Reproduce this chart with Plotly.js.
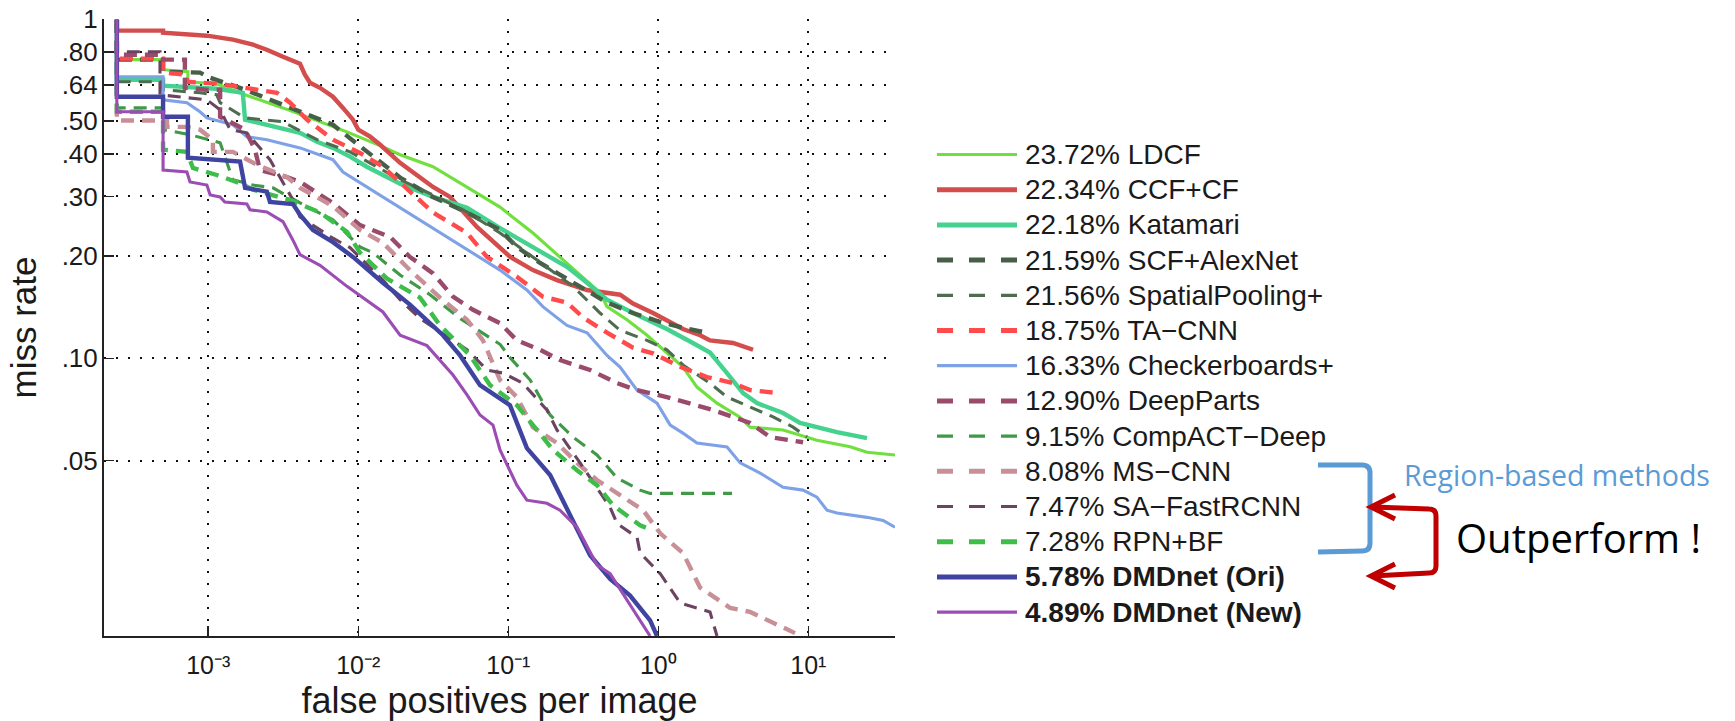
<!DOCTYPE html>
<html><head><meta charset="utf-8">
<script src="https://cdn.plot.ly/plotly-3.0.1.min.js"></script>
<style>html,body{margin:0;padding:0;background:#fff;}#chart{width:1735px;height:721px;}</style>
</head><body><div id="chart"></div>
<script>
// ---- data (false positives per image vs miss rate) ----
const legendLabels = ['23.72% LDCF','22.34% CCF+CF','22.18% Katamari','21.59% SCF+AlexNet','21.56% SpatialPooling+','18.75% TA\u2212CNN','16.33% Checkerboards+','12.90% DeepParts','9.15% CompACT\u2212Deep','8.08% MS\u2212CNN','7.47% SA\u2212FastRCNN','7.28% RPN+BF','<b>5.78% DMDnet (Ori)</b>','<b>4.89% DMDnet (New)</b>'];

const ldcfFppi = [2.46e-4,2.46e-4,5.0e-4,5.0e-4,7.32e-4,7.32e-4,1.14e-3,1.76e-3,3.15e-3,4.77e-3,6.78e-3,8.41e-3,1.46e-2,1.90e-2,3.15e-2,5.31e-2,8.81e-2,0.146,0.246,0.409,0.455,0.618,0.841,1.14,1.46,1.81,2.46,3.50,4.09,6.78,11.4,19.0,24.6,37.8];
const ldcfMiss = [0.995,0.759,0.759,0.709,0.699,0.653,0.644,0.598,0.547,0.511,0.481,0.465,0.420,0.398,0.367,0.320,0.279,0.234,0.191,0.156,0.142,0.130,0.117,0.104,0.0943,0.0823,0.0738,0.0671,0.0627,0.0615,0.0574,0.0549,0.0529,0.0519];

const ccfFppi = [2.46e-4,2.46e-4,5.0e-4,5.0e-4,9.8e-4,1.46e-3,1.99e-3,2.46e-3,3.15e-3,4.09e-3,4.41e-3,4.77e-3,5.56e-3,6.78e-3,7.91e-3,9.22e-3,1.0e-2,1.2e-2,1.4e-2,1.9e-2,3.15e-2,4.09e-2,6.18e-2,0.103,0.146,0.211,0.335,0.556,0.678,0.922,1.46,1.90,2.21,3.15,4.28];
const ccfMiss = [0.995,0.924,0.924,0.911,0.893,0.869,0.840,0.812,0.774,0.738,0.685,0.649,0.627,0.590,0.547,0.505,0.472,0.450,0.426,0.377,0.320,0.299,0.244,0.199,0.182,0.170,0.159,0.154,0.145,0.136,0.122,0.117,0.113,0.111,0.106];

const katamariFppi = [2.46e-4,2.46e-4,5.0e-4,5.0e-4,1.14e-3,1.70e-3,1.76e-3,2.46e-3,3.15e-3,4.09e-3,5.31e-3,6.78e-3,8.81e-3,1.14e-2,1.46e-2,1.90e-2,3.15e-2,5.31e-2,8.81e-2,0.146,0.246,0.335,0.455,0.678,1.14,1.70,2.21,2.87,3.67,4.55,6.78,8.81,15.5,24.6];
const katamariMiss = [0.995,0.662,0.662,0.636,0.623,0.606,0.505,0.488,0.478,0.462,0.435,0.417,0.393,0.367,0.347,0.327,0.299,0.278,0.242,0.213,0.186,0.167,0.149,0.136,0.122,0.111,0.104,0.0905,0.0790,0.0738,0.0690,0.0645,0.0606,0.0582];

const scfFppi = [2.46e-4,2.46e-4,5.0e-4,5.0e-4,8.81e-4,1.03e-3,1.76e-3,3.15e-3,4.77e-3,6.78e-3,1.0e-2,1.46e-2,1.90e-2,3.15e-2,5.31e-2,8.81e-2,0.114,0.163,0.270,0.455,0.678,1.03,1.46,2.11];
const scfMiss = [0.995,0.759,0.759,0.699,0.695,0.671,0.619,0.559,0.522,0.488,0.426,0.372,0.341,0.299,0.269,0.239,0.213,0.191,0.167,0.146,0.136,0.128,0.123,0.119];

const spFppi = [2.46e-4,2.46e-4,5.0e-4,5.0e-4,8.81e-4,1.14e-3,1.20e-3,1.76e-3,3.15e-3,5.31e-3,8.81e-3,1.46e-2,1.90e-2,3.15e-2,5.31e-2,8.81e-2,0.163,0.270,0.409,0.556,0.841,1.14,1.46,2.21,2.87,4.09,5.82,7.91,9.80];
const spMiss = [0.995,0.653,0.653,0.619,0.606,0.598,0.567,0.511,0.498,0.441,0.406,0.359,0.336,0.303,0.270,0.234,0.192,0.163,0.136,0.121,0.113,0.106,0.0956,0.0845,0.0769,0.0718,0.0672,0.0627,0.0586];

const tacnnFppi = [2.46e-4,2.46e-4,5.0e-4,5.0e-4,7.21e-4,7.21e-4,1.20e-3,1.76e-3,2.87e-3,3.51e-3,4.55e-3,6.78e-3,1.026e-2,1.46e-2,1.90e-2,3.15e-2,5.31e-2,7.21e-2,0.114,0.170,0.246,0.315,0.455,0.678,0.922,1.46,2.11,3.15,4.09,6.18];
const tacnnMiss = [0.995,0.764,0.764,0.695,0.685,0.653,0.644,0.627,0.606,0.567,0.505,0.441,0.403,0.367,0.331,0.269,0.234,0.199,0.174,0.152,0.146,0.132,0.119,0.1075,0.1034,0.0937,0.0881,0.0845,0.0806,0.0791];

const checkFppi = [2.46e-4,2.46e-4,5.0e-4,5.0e-4,7.21e-4,8.81e-4,9.8e-4,1.46e-3,1.81e-3,2.46e-3,4.09e-3,6.78e-3,7.91e-3,1.14e-2,1.90e-2,3.15e-2,5.31e-2,8.81e-2,0.133,0.170,0.246,0.335,0.455,0.556,0.721,0.980,1.20,1.46,1.81,2.87,3.51,4.77,6.78,9.22,11.4,13.3,15.5,24.6,31.5,37.8];
const checkMiss = [0.995,0.676,0.676,0.578,0.567,0.533,0.511,0.488,0.450,0.441,0.417,0.385,0.354,0.320,0.278,0.241,0.209,0.182,0.159,0.142,0.125,0.119,0.102,0.0943,0.0806,0.0738,0.0636,0.0602,0.0563,0.0548,0.0492,0.0459,0.0417,0.0409,0.0390,0.0357,0.0350,0.0340,0.0333,0.0318];

const deepPartsFppi = [2.46e-4,2.46e-4,5.0e-4,5.0e-4,6.99e-4,6.99e-4,9.8e-4,1.20e-3,1.20e-3,1.76e-3,2.05e-3,2.21e-3,3.35e-3,4.09e-3,6.78e-3,1.026e-2,1.63e-2,2.21e-2,3.15e-2,4.28e-2,5.82e-2,8.81e-2,0.114,0.163,0.221,0.351,0.531,0.721,1.14,1.63,2.32,3.15,4.09,5.56,9.22];
const deepPartsMiss = [0.995,0.785,0.785,0.759,0.759,0.627,0.619,0.619,0.515,0.472,0.412,0.359,0.342,0.331,0.287,0.247,0.228,0.199,0.178,0.152,0.139,0.127,0.113,0.106,0.0989,0.0924,0.0845,0.0806,0.0769,0.0738,0.0704,0.0672,0.0645,0.0586,0.0566];

const compactFppi = [2.46e-4,2.46e-4,5.0e-4,5.0e-4,7.56e-4,1.20e-3,1.46e-3,1.99e-3,2.70e-3,4.09e-3,6.78e-3,1.026e-2,1.25e-2,1.90e-2,3.01e-2,4.77e-2,8.81e-2,0.1026,0.140,0.190,0.270,0.390,0.531,0.756,0.881,3.10];
const compactMiss = [0.995,0.547,0.547,0.472,0.456,0.432,0.336,0.324,0.318,0.287,0.256,0.213,0.205,0.176,0.154,0.131,0.110,0.1006,0.0863,0.0681,0.0586,0.0519,0.0444,0.0409,0.0400,0.0400];

const mscnnFppi = [2.46e-4,2.46e-4,5.31e-4,5.31e-4,7.21e-4,8.81e-4,1.075e-3,1.075e-3,1.46e-3,2.11e-3,3.35e-3,4.09e-3,6.78e-3,1.026e-2,1.46e-2,2.21e-2,3.51e-2,5.31e-2,6.78e-2,8.81e-2,0.114,0.146,0.211,0.287,0.390,0.531,0.791,1.03,1.46,1.90,3.01,4.09,5.82,8.15];
const mscnnMiss = [0.995,0.502,0.502,0.481,0.481,0.472,0.441,0.406,0.406,0.372,0.342,0.318,0.281,0.239,0.219,0.182,0.151,0.130,0.113,0.0863,0.0769,0.0627,0.0563,0.0492,0.0438,0.0400,0.0357,0.0305,0.0267,0.0211,0.0184,0.0179,0.0166,0.0155];

const saFppi = [2.46e-4,2.46e-4,4.77e-4,4.77e-4,9.8e-4,1.20e-3,1.40e-3,1.81e-3,2.58e-3,3.67e-3,4.09e-3,6.78e-3,8.81e-3,1.46e-2,1.90e-2,2.58e-2,5.31e-2,7.21e-2,9.22e-2,0.125,0.181,0.211,0.301,0.477,0.531,0.721,0.756,1.03,1.40,2.21,2.46];
const saMiss = [0.995,0.801,0.801,0.598,0.578,0.540,0.472,0.462,0.385,0.293,0.261,0.226,0.212,0.170,0.149,0.131,0.106,0.0924,0.0905,0.0845,0.0704,0.0615,0.0492,0.0364,0.0326,0.0297,0.0267,0.0232,0.0190,0.0179,0.0152];

const rpnFppi = [2.46e-4,2.46e-4,5.0e-4,5.0e-4,7.21e-4,7.91e-4,1.14e-3,1.63e-3,1.99e-3,3.51e-3,5.56e-3,8.41e-3,1.026e-2,1.55e-2,2.58e-2,3.51e-2,5.56e-2,7.56e-2,0.114,0.155,0.199,0.287,0.390,0.499,0.756,0.922];
const rpnMiss = [0.995,0.533,0.533,0.412,0.406,0.364,0.347,0.328,0.314,0.293,0.269,0.236,0.205,0.172,0.151,0.125,0.102,0.0834,0.0728,0.0615,0.0537,0.0468,0.0423,0.0369,0.0322,0.0311];

const dmdOriFppi = [2.46e-4,2.46e-4,5.0e-4,5.0e-4,7.32e-4,7.32e-4,1.63e-3,1.76e-3,2.46e-3,2.58e-3,3.67e-3,4.09e-3,4.99e-3,6.78e-3,9.22e-3,1.46e-2,2.21e-2,3.67e-2,4.77e-2,6.48e-2,0.1026,0.133,0.190,0.270,0.351,0.477,0.648,0.881,0.980];
const dmdOriMiss = [0.995,0.590,0.590,0.515,0.515,0.390,0.380,0.318,0.310,0.289,0.285,0.265,0.239,0.220,0.199,0.167,0.144,0.117,0.102,0.0834,0.0728,0.0544,0.0453,0.0333,0.0263,0.0224,0.0200,0.0169,0.0152];

const dmdNewFppi = [2.46e-4,2.46e-4,5.0e-4,5.0e-4,7.21e-4,7.56e-4,9.8e-4,1.03e-3,1.20e-3,1.29e-3,1.81e-3,1.90e-3,2.46e-3,3.15e-3,3.67e-3,4.09e-3,5.56e-3,8.41e-3,1.46e-2,1.90e-2,2.87e-2,4.28e-2,5.31e-2,6.48e-2,7.91e-2,8.81e-2,0.114,0.133,0.181,0.221,0.287,0.390,0.477,0.648,0.791,0.881];
const dmdNewMiss = [0.995,0.533,0.533,0.359,0.354,0.331,0.324,0.303,0.299,0.289,0.285,0.274,0.270,0.253,0.223,0.202,0.188,0.163,0.137,0.117,0.109,0.0893,0.0780,0.0681,0.0636,0.0537,0.0423,0.0382,0.0374,0.0357,0.0318,0.0246,0.0232,0.0187,0.0163,0.0152];

const xTickVals = [1e-3,1e-2,1e-1,1,10];
const xTickText = ['10\u207B\u00B3','10\u207B\u00B2','10\u207B\u00B9','10\u2070','10\u00B9'];
const yTickVals = [0.05,0.10,0.20,0.30,0.40,0.50,0.64,0.80,1];
const yTickText = ['.05','.10','.20','.30','.40','.50','.64','.80','1'];

// ---- styles ----
const seriesX = [ldcfFppi,ccfFppi,katamariFppi,scfFppi,spFppi,tacnnFppi,checkFppi,deepPartsFppi,compactFppi,mscnnFppi,saFppi,rpnFppi,dmdOriFppi,dmdNewFppi];
const seriesY = [ldcfMiss,ccfMiss,katamariMiss,scfMiss,spMiss,tacnnMiss,checkMiss,deepPartsMiss,compactMiss,mscnnMiss,saMiss,rpnMiss,dmdOriMiss,dmdNewMiss];
const colors = ['#6fe03e','#d34d4d','#45d28f','#465f46','#506c50','#ff4b4b','#7fa1e6','#9a4a6b','#3f9947','#c98f97','#6c4461','#3fbd4b','#3e449f','#9b4db4'];
const thick = [false,true,true,true,false,true,false,true,false,true,false,true,true,false];
const dashed = [false,false,false,true,true,true,false,true,true,true,true,true,false,false];

const L=104, R=895, T=19, B=636;
const px2x = p => (p-L)/(R-L);
const py2y = p => (B-p)/(B-T);

const traces = seriesX.map((xs,i)=>({
  x: xs, y: seriesY[i], type:'scatter', mode:'lines', name: legendLabels[i], showlegend:false,
  line:{color:colors[i], width: thick[i]?4.4:3.1, dash: dashed[i]?'13px,8px':'solid'}
}));

const shapes = [];
const annotations = [];
legendLabels.forEach((lab,i)=>{
  const ry = 154.5 + 35.2*i;
  shapes.push({type:'line', xref:'paper', yref:'paper', x0:px2x(937), x1:px2x(1017), y0:py2y(ry), y1:py2y(ry),
    line:{color:colors[i], width: thick[i]?5:3.2, dash: dashed[i]?'16px,16px':'solid'}});
  annotations.push({xref:'paper', yref:'paper', x:px2x(1023), y:py2y(ry), xanchor:'left', yanchor:'middle',
    text:lab, showarrow:false, font:{family:'Liberation Sans, Arial, sans-serif', size:28, color:'#1a1a1a'}});
});

function pathPx(pts){
  return pts.map((p,i)=>{
    if (p[0]==='Q') return 'Q'+px2x(p[1])+','+py2y(p[2])+' '+px2x(p[3])+','+py2y(p[4]);
    return (i===0?'M':'L')+px2x(p[0])+','+py2y(p[1]);
  }).join(' ');
}
// blue bracket
shapes.push({type:'path', xref:'paper', yref:'paper', line:{color:'#5b9bd5', width:5},
  path: pathPx([[1318,465],[1362,465],['Q',1370,465,1370,473],[1370,543],['Q',1370,551,1362,551],[1318,552]])});
// red double arrow
shapes.push({type:'path', xref:'paper', yref:'paper', line:{color:'#c00000', width:5},
  path: pathPx([[1372,507],[1429,509],['Q',1436,509,1436,516],[1436,566],['Q',1436,573,1429,573],[1372,576]])});
shapes.push({type:'path', xref:'paper', yref:'paper', line:{color:'#c00000', width:5},
  path: pathPx([[1395,495],[1371,507],[1395,519]])});
shapes.push({type:'path', xref:'paper', yref:'paper', line:{color:'#c00000', width:5},
  path: pathPx([[1395,564],[1371,576],[1395,588]])});

annotations.push({xref:'paper', yref:'paper', x:px2x(1557), y:py2y(475), xanchor:'center', yanchor:'middle', showarrow:false,
  text:'Region-based methods', font:{family:'Open Sans, Noto Sans, sans-serif', size:28.5, color:'#5b9bd5'}});
annotations.push({xref:'paper', yref:'paper', x:px2x(1578), y:py2y(537), xanchor:'center', yanchor:'middle', showarrow:false,
  text:'Outperform !', font:{family:'Open Sans, Noto Sans, sans-serif', size:40, color:'#000'}});

const layout = {
  width:1735, height:721, paper_bgcolor:'#fff', plot_bgcolor:'#fff',
  margin:{l:L, r:1735-R, t:T, b:721-B},
  font:{family:'Liberation Sans, Arial, sans-serif', color:'#1a1a1a'},
  xaxis:{type:'log', range:[Math.log10(2.02e-4), Math.log10(37.8)], tickvals:xTickVals, ticktext:xTickText,
    showgrid:true, gridcolor:'#111', gridwidth:2, griddash:'2px,10px', zeroline:false,
    showline:true, linecolor:'#222', linewidth:2, mirror:false, ticks:'inside', ticklen:10, tickwidth:1.5, tickcolor:'#222',
    ticklabelstandoff:6,
    tickfont:{family:'Liberation Sans, Arial, sans-serif', size:25, color:'#1a1a1a'},
    title:{text:'false positives per image', font:{size:36, color:'#1a1a1a'}, standoff:11}},
  yaxis:{type:'log', range:[Math.log10(0.0152), 0], tickvals:yTickVals, ticktext:yTickText,
    showgrid:true, gridcolor:'#111', gridwidth:2, griddash:'2px,10px', zeroline:false,
    showline:true, linecolor:'#222', linewidth:2, mirror:false, ticks:'inside', ticklen:10, tickwidth:1.5, tickcolor:'#222',
    ticklabelstandoff:-1,
    tickfont:{family:'Liberation Sans, Arial, sans-serif', size:26, color:'#1a1a1a'},
    title:{text:'miss rate', font:{size:35, color:'#1a1a1a'}, standoff:14}},
  shapes: shapes, annotations: annotations, showlegend:false
};
Plotly.newPlot('chart', traces, layout, {staticPlot:true, displayModeBar:false});
</script>
</body></html>
